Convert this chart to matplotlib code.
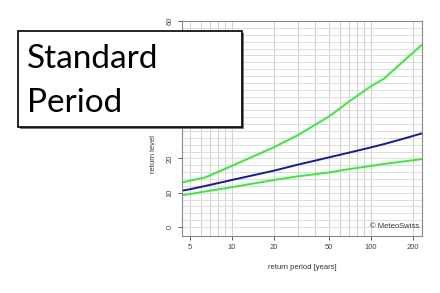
import matplotlib
matplotlib.use("Agg")
import matplotlib.pyplot as plt
from matplotlib.patches import Rectangle
from matplotlib.ticker import FixedLocator, NullFormatter

# return periods (years) and return levels
period = [4.4, 5, 6.5, 10, 20, 30, 50, 70, 100, 125, 170, 233]
level = [10.6, 11.0, 12.0, 13.7, 16.4, 18.2, 20.3, 21.7, 23.2, 24.2, 25.7, 27.3]
lower = [9.3, 9.6, 10.4, 11.6, 13.7, 14.8, 15.9, 16.9, 17.8, 18.4, 19.1, 19.8]
upper = [13.0, 13.5, 14.5, 17.8, 23.2, 26.8, 32.2, 36.6, 41.0, 43.3, 48.2, 53.1]

xticks = [5, 10, 20, 50, 100, 200]
xgrid = [5, 6, 7, 8, 9, 10, 20, 30, 40, 50, 60, 70, 80, 90, 100, 200]
yticks = [0, 10, 20, 30, 40, 50, 60]
ygrid = list(range(0, 61, 2))

plt.rcParams['font.family'] = ['Liberation Sans', 'DejaVu Sans']

fig = plt.figure(figsize=(4.4, 2.93), dpi=100)
ax = fig.add_axes([0.4136, 0.1945, 0.5454, 0.7335])

ax.set_xscale('log')
ax.set_xlim(4.4, 233)
ax.set_ylim(-2.6, 60)

for g in xgrid:
    ax.axvline(g, color='#d0d0d0', lw=0.7, zorder=0)
for g in ygrid:
    ax.axhline(g, color='#dcdcdc', lw=0.7, zorder=0)

ax.plot(period, upper, color='#33ee33', lw=1.4)
ax.plot(period, lower, color='#33ee33', lw=1.4)
ax.plot(period, level, color='#1515b0', lw=1.4)

ax.xaxis.set_major_locator(FixedLocator(xticks))
ax.xaxis.set_minor_locator(FixedLocator([]))
ax.xaxis.set_minor_formatter(NullFormatter())
ax.set_xticklabels([str(t) for t in xticks])
ax.set_yticks(yticks)
ax.set_yticklabels([str(t) for t in yticks], rotation=90, va='center')
ax.tick_params(labelsize=5.5, colors='#444444', length=3, width=0.6, pad=3)

for s in ax.spines.values():
    s.set_color('#888888')
    s.set_linewidth(0.8)

ax.set_xlabel('return period [years]', fontsize=5.5, color='#333333', labelpad=9)
ax.set_ylabel('return level', fontsize=5.5, color='#333333', labelpad=6)
ax.yaxis.set_label_coords(-0.105, 0.38)

ax.text(0.99, 0.045, '\u00a9 MeteoSwiss', transform=ax.transAxes,
        ha='right', va='center', fontsize=5.5, color='#333333')

# title box over the upper left
W, H = 440, 293
x0, y0, x1, y1 = 18, 31, 242, 127
fig.patches.append(Rectangle(((x0 + 2) / W, 1 - (y1 + 2) / H), (x1 - x0) / W, (y1 - y0) / H,
                             transform=fig.transFigure, facecolor='#777777',
                             edgecolor='none', zorder=4))
fig.patches.append(Rectangle((x0 / W, 1 - y1 / H), (x1 - x0) / W, (y1 - y0) / H,
                             transform=fig.transFigure, facecolor='white',
                             edgecolor='black', lw=1.2, zorder=5))
fig.text(27 / W, 1 - 68 / H, 'Standard', fontsize=24, family=['Lato', 'DejaVu Sans'],
         color='black', va='baseline', ha='left', zorder=6)
fig.text(27 / W, 1 - 112 / H, 'Period', fontsize=24, family=['Lato', 'DejaVu Sans'],
         color='black', va='baseline', ha='left', zorder=6)

fig.savefig('out.png', dpi=100)
